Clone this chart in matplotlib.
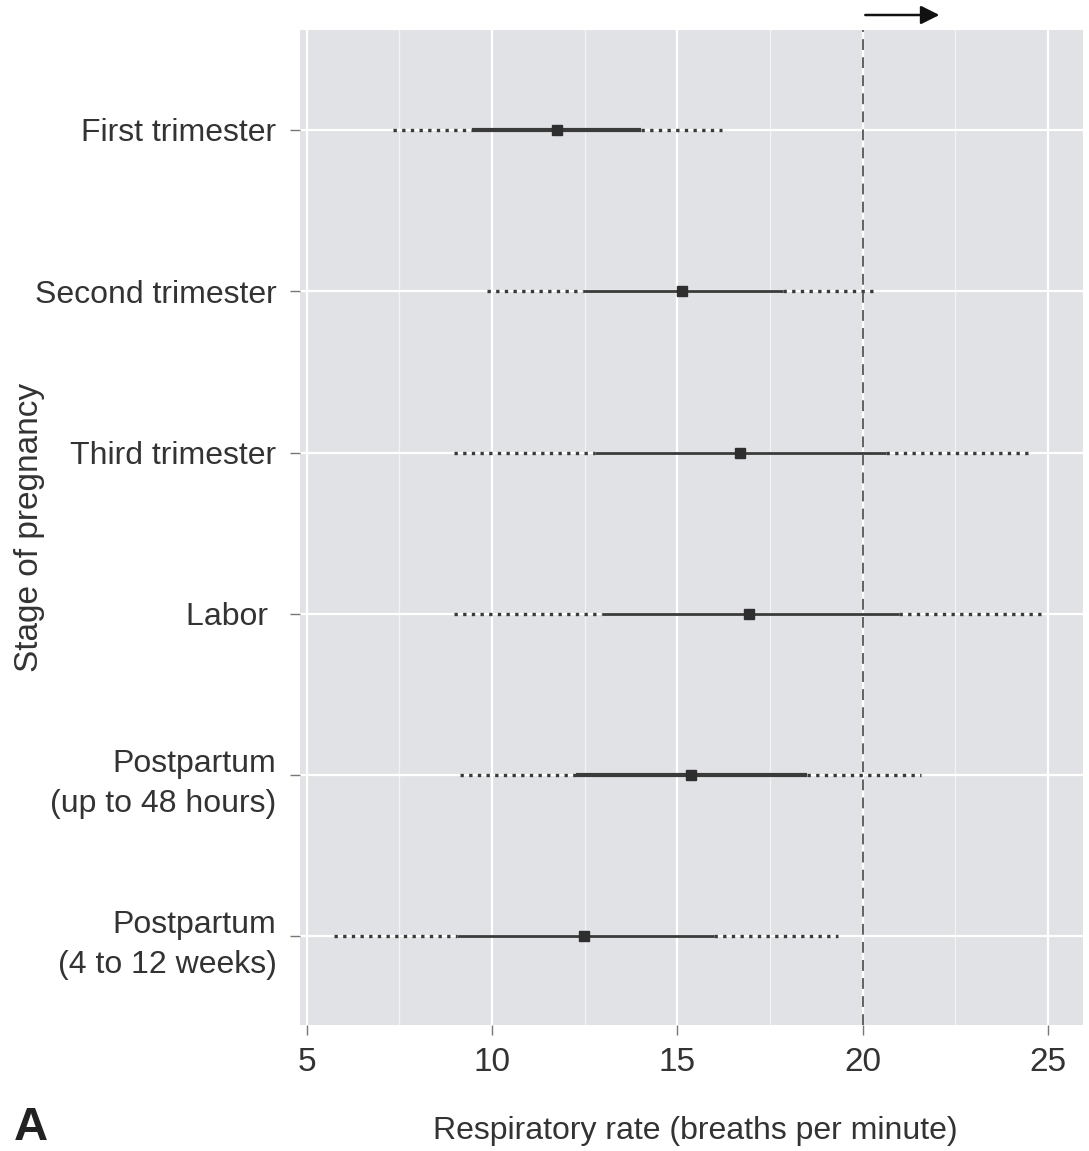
import matplotlib
matplotlib.use("Agg")
import matplotlib.pyplot as plt

plt.rcParams['font.family'] = ['Liberation Sans', 'DejaVu Sans']

# values (breaths per minute)
stages = ["First trimester", "Second trimester", "Third trimester", "Labor ",
          "Postpartum\n(up to 48 hours)", "Postpartum\n(4 to 12 weeks)"]
outer_low = [7.33, 9.86, 8.97, 8.97, 9.14, 5.73]
inner_low = [9.45, 12.45, 12.77, 12.97, 12.27, 9.06]
median = [11.75, 15.14, 16.69, 16.94, 15.37, 12.49]
inner_high = [14.01, 17.85, 20.63, 20.99, 18.50, 15.99]
outer_high = [16.20, 20.39, 24.47, 24.94, 21.58, 19.35]
solid_width = [3.0, 2.0, 2.0, 2.0, 3.0, 2.0]
threshold = 20

ink = "#3a3a3a"
txt = "#333333"

fig = plt.figure(figsize=(10.89, 11.51), dpi=100)
ax = fig.add_axes([300 / 1089, 126 / 1151, 783 / 1089, 995 / 1151])
ax.set_facecolor("#e0e2e5")
for s in ax.spines.values():
    s.set_visible(False)

ypos = list(range(len(stages)))
ax.set_xlim(4.82, 25.95)
ax.set_ylim(5.55, -0.62)

ax.set_xticks([5, 10, 15, 20, 25])
ax.set_xticks([7.5, 12.5, 17.5, 22.5], minor=True)
ax.set_yticks(ypos)
ax.set_yticklabels(stages, multialignment="right", linespacing=1.45)
ax.grid(True, which="major", color="white", lw=1.6)
ax.grid(True, which="minor", axis="x", color="#f2f3f4", lw=0.9)
ax.set_axisbelow(True)
ax.tick_params(axis="both", which="major", length=7, width=1, color="#777777",
               labelcolor=txt, pad=10)
ax.tick_params(axis="y", labelsize=23)
ax.tick_params(axis="x", labelsize=24, pad=9)
ax.tick_params(axis="both", which="minor", length=0)

for i, y in enumerate(ypos):
    ax.plot([outer_low[i], inner_low[i]], [y, y], color=ink, lw=2.4,
            ls=(0, (1, 1.6)), solid_capstyle="butt")
    ax.plot([inner_high[i], outer_high[i]], [y, y], color=ink, lw=2.4,
            ls=(0, (1, 1.6)), solid_capstyle="butt")
    ax.plot([inner_low[i], inner_high[i]], [y, y], color=ink,
            lw=solid_width[i], solid_capstyle="butt")
    ax.plot(median[i], y, marker="s", ms=7, color="#2e2e2e", mec="#2e2e2e")

ax.axvline(threshold, color="#555555", lw=1.3, ls=(0, (6, 4)))

ax.annotate("", xy=(22.15, 1 - 15 / 1151), xytext=(threshold, 1 - 15 / 1151),
            xycoords=("data", "figure fraction"),
            textcoords=("data", "figure fraction"),
            arrowprops=dict(arrowstyle="-|>", color="#111111", lw=1.8,
                            mutation_scale=28), annotation_clip=False)

fig.text(695 / 1089, 1 - 1131 / 1151, "Respiratory rate (breaths per minute)",
         ha="center", va="center", fontsize=23, color=txt)
fig.text(30 / 1089, 1 - 527 / 1151, "Stage of pregnancy", rotation=90,
         ha="center", va="center", fontsize=24, color=txt)
fig.text(14 / 1089, 1 - 1140 / 1151, "A", ha="left", va="baseline",
         fontsize=34, fontweight="bold", color="#222222")

fig.savefig("out.png", dpi=100)
